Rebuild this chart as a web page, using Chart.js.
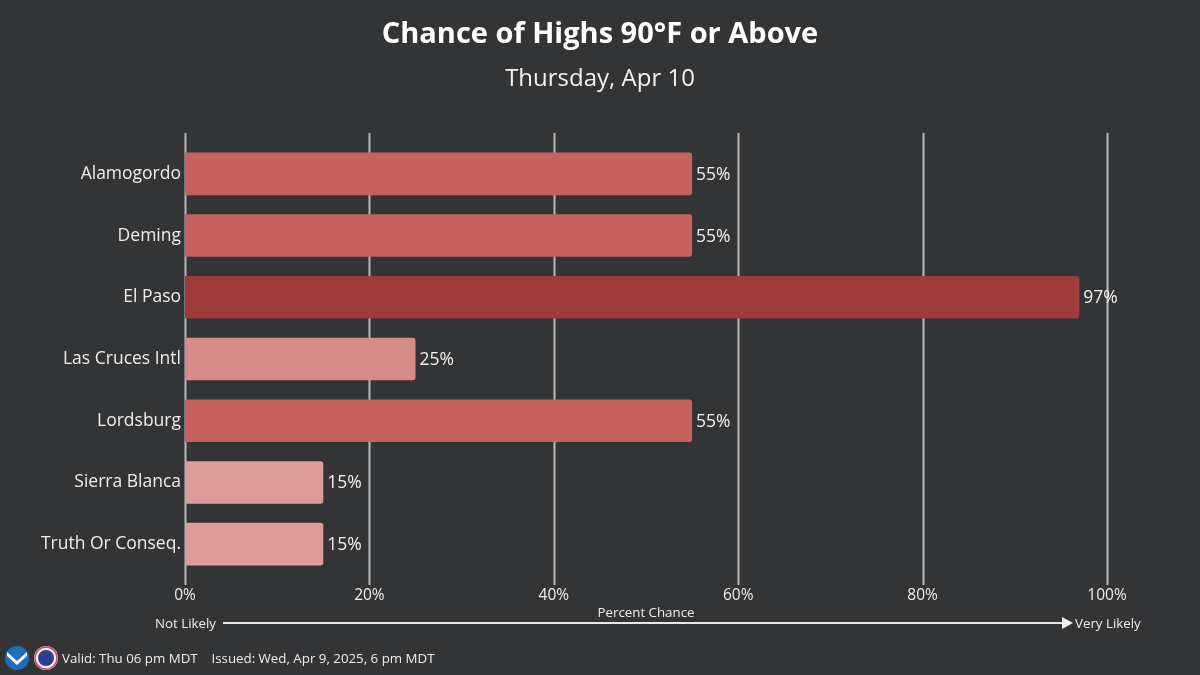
<!DOCTYPE html>
<html>
<head>
<meta charset="utf-8">
<script src="https://cdn.jsdelivr.net/npm/chart.js@4.4.1/dist/chart.umd.min.js"></script>
<style>
  html, body { margin: 0; padding: 0; background: #333436; }
  #wrap { width: 1200px; height: 675px; }
</style>
</head>
<body>
<div id="wrap"><canvas id="grafico" width="1200" height="675"></canvas></div>
<script>
const locais = ['Alamogordo', 'Deming', 'El Paso', 'Las Cruces Intl', 'Lordsburg', 'Sierra Blanca', 'Truth Or Conseq.'];
const chances = [55, 55, 97, 25, 55, 15, 15];
const coresBarras = ['#c8605d', '#c8605d', '#9e3c3a', '#d68b88', '#c8605d', '#dc9c9a', '#dc9c9a'];
const ticksX = [0, 20, 40, 60, 80, 100];

const titulo = 'Chance of Highs 90°F or Above';
const subtitulo = 'Thursday, Apr 10';
const rodape = 'Valid: Thu 06 pm MDT    Issued: Wed, Apr 9, 2025, 6 pm MDT';

const fonte = "'Open Sans', 'Noto Sans', sans-serif";

// titulo e subtitulo centralizados na imagem toda
const tituloPlugin = {
    id: 'titulo',
    afterDraw(chart) {
        const ctx = chart.ctx;
        ctx.save();
        ctx.textAlign = 'center';
        ctx.textBaseline = 'middle';
        ctx.fillStyle = '#ffffff';
        ctx.font = 'bold 29px ' + fonte;
        ctx.fillText(titulo, chart.width / 2, 35);
        ctx.fillStyle = '#f2f2f2';
        ctx.font = '24px ' + fonte;
        ctx.fillText(subtitulo, chart.width / 2, 79);
        ctx.restore();
    }
};

// linhas de grade verticais que passam um pouco do topo e da base
const gradePlugin = {
    id: 'grade',
    beforeDatasetsDraw(chart) {
        const ctx = chart.ctx;
        const area = chart.chartArea;
        const x = chart.scales.x;
        ctx.save();
        ctx.strokeStyle = '#b9b9b9';
        ctx.lineWidth = 2;
        ticksX.forEach(v => {
            const px = Math.round(x.getPixelForValue(v)) + 0.5;
            ctx.beginPath();
            ctx.moveTo(px, area.top - 10);
            ctx.lineTo(px, area.bottom + 10);
            ctx.stroke();
        });
        ctx.restore();
    }
};

// rotulos de porcentagem no fim das barras, seta e rodape
const extrasPlugin = {
    id: 'extras',
    afterDatasetsDraw(chart) {
        const ctx = chart.ctx;
        const area = chart.chartArea;
        const meta = chart.getDatasetMeta(0);
        ctx.save();
        ctx.fillStyle = '#f2f2f2';
        ctx.font = '17.5px ' + fonte;
        ctx.textAlign = 'left';
        ctx.textBaseline = 'middle';
        meta.data.forEach((barra, i) => {
            ctx.fillText(chances[i] + '%', barra.x + 4, barra.y + 1);
        });

        // seta Not Likely -> Very Likely
        const ySeta = 623;
        ctx.strokeStyle = '#e8e8e8';
        ctx.lineWidth = 2;
        ctx.beginPath();
        ctx.moveTo(223, ySeta);
        ctx.lineTo(1064, ySeta);
        ctx.stroke();
        ctx.fillStyle = '#f2f2f2';
        ctx.beginPath();
        ctx.moveTo(1062, ySeta - 6);
        ctx.lineTo(1073, ySeta);
        ctx.lineTo(1062, ySeta + 6);
        ctx.closePath();
        ctx.fill();

        ctx.font = '13.3px ' + fonte;
        ctx.fillStyle = '#eeeeee';
        ctx.textAlign = 'right';
        ctx.fillText('Not Likely', 216, ySeta + 1);
        ctx.textAlign = 'left';
        ctx.fillText('Very Likely', 1075, ySeta + 1);
        ctx.textAlign = 'center';
        ctx.fillText('Percent Chance', (area.left + area.right) / 2, 613);

        // logos simplificados
        ctx.fillStyle = '#1f6fb8';
        ctx.beginPath();
        ctx.arc(17, 658, 12, 0, Math.PI * 2);
        ctx.fill();
        ctx.fillStyle = '#ffffff';
        ctx.beginPath();
        ctx.moveTo(7, 652);
        ctx.lineTo(17, 661);
        ctx.lineTo(27, 652);
        ctx.lineTo(27, 656);
        ctx.lineTo(17, 665);
        ctx.lineTo(7, 656);
        ctx.closePath();
        ctx.fill();
        ctx.fillStyle = '#f4eef0';
        ctx.beginPath();
        ctx.arc(46, 658, 12, 0, Math.PI * 2);
        ctx.fill();
        ctx.fillStyle = '#2a3f8f';
        ctx.beginPath();
        ctx.arc(46, 658, 8, 0, Math.PI * 2);
        ctx.fill();
        ctx.strokeStyle = '#d0485a';
        ctx.lineWidth = 1.5;
        ctx.beginPath();
        ctx.arc(46, 658, 11, 0, Math.PI * 2);
        ctx.stroke();

        ctx.font = '13.3px ' + fonte;
        ctx.fillStyle = '#eeeeee';
        ctx.textAlign = 'left';
        ctx.fillText(rodape, 62, 659);
        ctx.restore();
    }
};

new Chart(document.getElementById('grafico'), {
    type: 'bar',
    data: {
        labels: locais,
        datasets: [{
            data: chances,
            backgroundColor: coresBarras,
            borderWidth: 0,
            borderRadius: { topRight: 3, bottomRight: 3 },
            borderSkipped: 'left',
            barPercentage: 0.69,
            categoryPercentage: 1.0
        }]
    },
    options: {
        indexAxis: 'y',
        responsive: false,
        animation: false,
        layout: { padding: { left: 10, right: 93, top: 143, bottom: 70 } },
        scales: {
            x: {
                min: 0,
                max: 100,
                afterBuildTicks: s => { s.ticks = ticksX.map(v => ({ value: v })); },
                afterFit: s => { s.height = 30; },
                grid: { display: false, drawTicks: false },
                border: { display: false },
                ticks: {
                    color: '#eeeeee',
                    font: { family: fonte, size: 15.5 },
                    padding: 11,
                    callback: v => v + '%'
                }
            },
            y: {
                afterFit: s => { s.width = 175; },
                grid: { display: false, drawTicks: false },
                border: { display: false },
                ticks: {
                    color: '#eeeeee',
                    font: { family: fonte, size: 17.5 },
                    padding: 4
                }
            }
        },
        plugins: {
            legend: { display: false },
            tooltip: { enabled: false }
        }
    },
    plugins: [gradePlugin, extrasPlugin, tituloPlugin]
});
</script>
</body>
</html>
